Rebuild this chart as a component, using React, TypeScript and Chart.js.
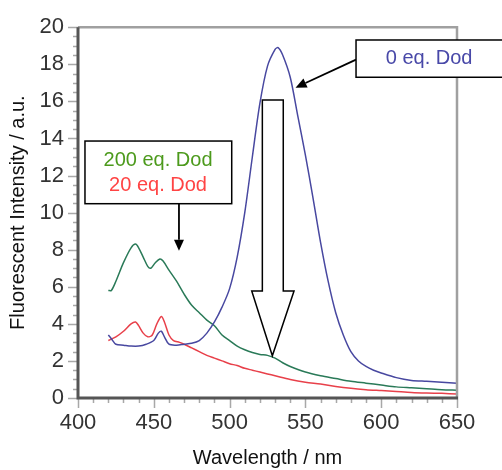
import React, { useEffect, useRef } from "react";
import { Chart, registerables } from "chart.js";
Chart.register(...registerables);

// Wavelength (nm) and fluorescence intensity (a.u.) for each series
const wl0 = [420, 422, 425, 430, 435, 440, 445, 450, 453, 455, 457, 460, 465, 470, 475, 480, 485, 490, 495, 500, 505, 510, 515, 520, 525, 530, 532, 535, 540, 545, 550, 555, 560, 565, 570, 575, 580, 585, 590, 595, 600, 610, 620, 630, 640, 650];
const int0 = [3.4, 3.2, 2.9, 2.85, 2.8, 2.8, 2.9, 3.1, 3.5, 3.6, 3.3, 2.9, 2.85, 2.9, 2.95, 3.1, 3.5, 4.1, 4.9, 5.9, 7.6, 10.0, 13.0, 15.9, 17.9, 18.8, 18.9, 18.5, 17.3, 15.2, 13.1, 10.8, 8.4, 6.3, 4.6, 3.4, 2.5, 2.0, 1.7, 1.5, 1.35, 1.1, 0.95, 0.9, 0.85, 0.8];

const wl200 = [420, 422, 425, 430, 435, 438, 440, 443, 446, 448, 451, 454, 456, 460, 465, 470, 475, 480, 485, 490, 495, 500, 505, 510, 515, 520, 525, 530, 535, 540, 550, 560, 570, 580, 590, 600, 610, 620, 630, 640, 650];
const int200 = [5.8, 5.8, 6.3, 7.3, 8.1, 8.3, 8.1, 7.6, 7.1, 7.0, 7.3, 7.5, 7.4, 6.9, 6.3, 5.6, 5.0, 4.6, 4.2, 3.9, 3.4, 3.1, 2.8, 2.6, 2.45, 2.35, 2.3, 2.15, 1.9, 1.7, 1.4, 1.2, 1.05, 0.9, 0.8, 0.7, 0.6, 0.55, 0.5, 0.45, 0.42];

const wl20 = [420, 425, 430, 435, 438, 440, 443, 446, 449, 452, 455, 457, 460, 463, 467, 470, 475, 480, 485, 490, 495, 500, 505, 510, 515, 520, 525, 530, 540, 550, 560, 570, 580, 590, 600, 610, 620, 630, 640, 650];
const int20 = [3.1, 3.3, 3.6, 4.0, 4.1, 3.9, 3.5, 3.3, 3.4, 4.0, 4.4, 4.1, 3.4, 3.1, 3.0, 2.9, 2.7, 2.5, 2.3, 2.15, 2.0, 1.85, 1.75, 1.6, 1.5, 1.4, 1.3, 1.2, 1.0, 0.85, 0.75, 0.62, 0.52, 0.45, 0.4, 0.35, 0.3, 0.27, 0.25, 0.22];

const seriesLabels = ["0 eq. Dod", "200 eq. Dod", "20 eq. Dod"];
const xTitle = "Wavelength / nm";
const yTitle = "Fluorescent Intensity / a.u.";

const FONT = "'Liberation Sans', Arial, Helvetica, sans-serif";

const toPts = (xs: number[], ys: number[]) => xs.map((x, i) => ({ x, y: ys[i] }));

const decorPlugin = {
  id: "decor",
  afterDatasetsDraw(chart: any) {
    const { ctx, chartArea: a, scales } = chart;
    const xs = scales.x;
    const ys = scales.y;
    const px = (v: number) => xs.getPixelForValue(v);
    const py = (v: number) => ys.getPixelForValue(v);
    ctx.save();
    // minor / major ticks
    ctx.strokeStyle = "#a8a8a8";
    ctx.lineWidth = 1.5;
    ctx.beginPath();
    for (let v = 400; v <= 650; v += 10) {
      const len = v % 50 === 0 ? 10 : 5;
      const x = Math.round(px(v)) + 0.5;
      ctx.moveTo(x, a.bottom);
      ctx.lineTo(x, a.bottom + len);
    }
    for (let k = 0; k <= 40; k++) {
      const v = k * 0.5;
      const len = k % 4 === 0 ? 10 : 5;
      const y = Math.round(py(v)) + 0.5;
      ctx.moveTo(a.left, y);
      ctx.lineTo(a.left - len, y);
    }
    ctx.stroke();
    // top and right frame
    ctx.strokeStyle = "#a0a0a0";
    ctx.lineWidth = 2.5;
    ctx.beginPath();
    ctx.moveTo(a.left, a.top);
    ctx.lineTo(a.right, a.top);
    ctx.lineTo(a.right, a.bottom);
    ctx.stroke();
    // left and bottom axis
    ctx.strokeStyle = "#555555";
    ctx.lineWidth = 3;
    ctx.beginPath();
    ctx.moveTo(a.left, a.top);
    ctx.lineTo(a.left, a.bottom);
    ctx.lineTo(a.right + 1, a.bottom);
    ctx.stroke();

    // big hollow arrow
    ctx.fillStyle = "#ffffff";
    ctx.strokeStyle = "#000000";
    ctx.lineWidth = 1.5;
    ctx.beginPath();
    ctx.moveTo(px(521.6), py(16.08));
    ctx.lineTo(px(535.4), py(16.08));
    ctx.lineTo(px(535.4), py(5.77));
    ctx.lineTo(px(542.5), py(5.77));
    ctx.lineTo(px(528.2), py(2.28));
    ctx.lineTo(px(514.6), py(5.77));
    ctx.lineTo(px(521.6), py(5.77));
    ctx.closePath();
    ctx.fill();
    ctx.stroke();

    const arrow = (x1: number, y1: number, x2: number, y2: number) => {
      const ang = Math.atan2(y2 - y1, x2 - x1);
      const hl = 11, hw = 5;
      const bx = x2 - hl * Math.cos(ang);
      const by = y2 - hl * Math.sin(ang);
      ctx.strokeStyle = "#000";
      ctx.lineWidth = 1.8;
      ctx.beginPath();
      ctx.moveTo(x1, y1);
      ctx.lineTo(bx, by);
      ctx.stroke();
      ctx.fillStyle = "#000";
      ctx.beginPath();
      ctx.moveTo(x2, y2);
      ctx.lineTo(bx + hw * Math.sin(ang), by - hw * Math.cos(ang));
      ctx.lineTo(bx - hw * Math.sin(ang), by + hw * Math.cos(ang));
      ctx.closePath();
      ctx.fill();
    };

    const box = (l: number, r: number, t: number, b: number) => {
      const x1 = px(l), x2 = px(r), y1 = py(t), y2 = py(b);
      ctx.fillStyle = "#ffffff";
      ctx.fillRect(x1, y1, x2 - x1, y2 - y1);
      ctx.strokeStyle = "#000";
      ctx.lineWidth = 1.5;
      ctx.strokeRect(x1, y1, x2 - x1, y2 - y1);
    };

    // 0 eq. Dod label
    arrow(px(583.4), py(18.25), px(543.5), py(16.74));
    box(583.4, 680.5, 19.31, 17.3);
    ctx.font = `20px ${FONT}`;
    ctx.textAlign = "center";
    ctx.textBaseline = "middle";
    ctx.fillStyle = "#4848a8";
    ctx.fillText(seriesLabels[0], px(631.6), py(18.3));

    // 200 / 20 eq. Dod label
    box(404.6, 501.4, 13.86, 10.48);
    ctx.fillStyle = "#4c9a1c";
    ctx.fillText(seriesLabels[1], px(452.8), py(12.8));
    ctx.fillStyle = "#ff4444";
    ctx.fillText(seriesLabels[2], px(452.8), py(11.44));
    arrow(px(466.6), py(10.48), px(466.6), py(7.94));
    ctx.restore();
  },
};

export default function App() {
  const ref = useRef<HTMLCanvasElement | null>(null);
  useEffect(() => {
    if (!ref.current) return;
    const chart = new Chart(ref.current, {
      type: "line",
      data: {
        datasets: [
          { label: seriesLabels[0], data: toPts(wl0, int0), borderColor: "#4848a0", borderWidth: 1.5, pointRadius: 0, tension: 0.3 },
          { label: seriesLabels[1], data: toPts(wl200, int200), borderColor: "#2a7a58", borderWidth: 1.5, pointRadius: 0, tension: 0.3 },
          { label: seriesLabels[2], data: toPts(wl20, int20), borderColor: "#e8404a", borderWidth: 1.5, pointRadius: 0, tension: 0.3 },
        ],
      },
      options: {
        responsive: false,
        animation: false,
        devicePixelRatio: 1,
        layout: { padding: { top: 20, right: 45, left: 0, bottom: 0 } },
        plugins: { legend: { display: false }, tooltip: { enabled: false } },
        scales: {
          x: {
            type: "linear",
            min: 400,
            max: 650,
            afterFit: (s: any) => { s.height = 72; },
            ticks: { stepSize: 50, padding: 12, color: "#333", font: { family: FONT, size: 22 }, maxRotation: 0 },
            grid: { display: false, drawTicks: false },
            border: { display: false },
            title: { display: true, text: xTitle, color: "#111", font: { family: FONT, size: 20 }, padding: { top: 0, bottom: 0 } },
          },
          y: {
            min: 0,
            max: 20,
            afterFit: (s: any) => { s.width = 78; },
            ticks: { stepSize: 2, padding: 14, color: "#333", font: { family: FONT, size: 22 } },
            grid: { display: false, drawTicks: false },
            border: { display: false },
            title: { display: true, text: yTitle, color: "#111", font: { family: FONT, size: 20 }, padding: { top: 6, bottom: 0 } },
          },
        },
      },
      plugins: [decorPlugin],
    } as any);
    return () => chart.destroy();
  }, []);
  return (
    <div style={{ position: "fixed", left: 0, top: 0, width: 502, height: 470, background: "#fff" }}>
      <canvas ref={ref} width={502} height={470} />
    </div>
  );
}
